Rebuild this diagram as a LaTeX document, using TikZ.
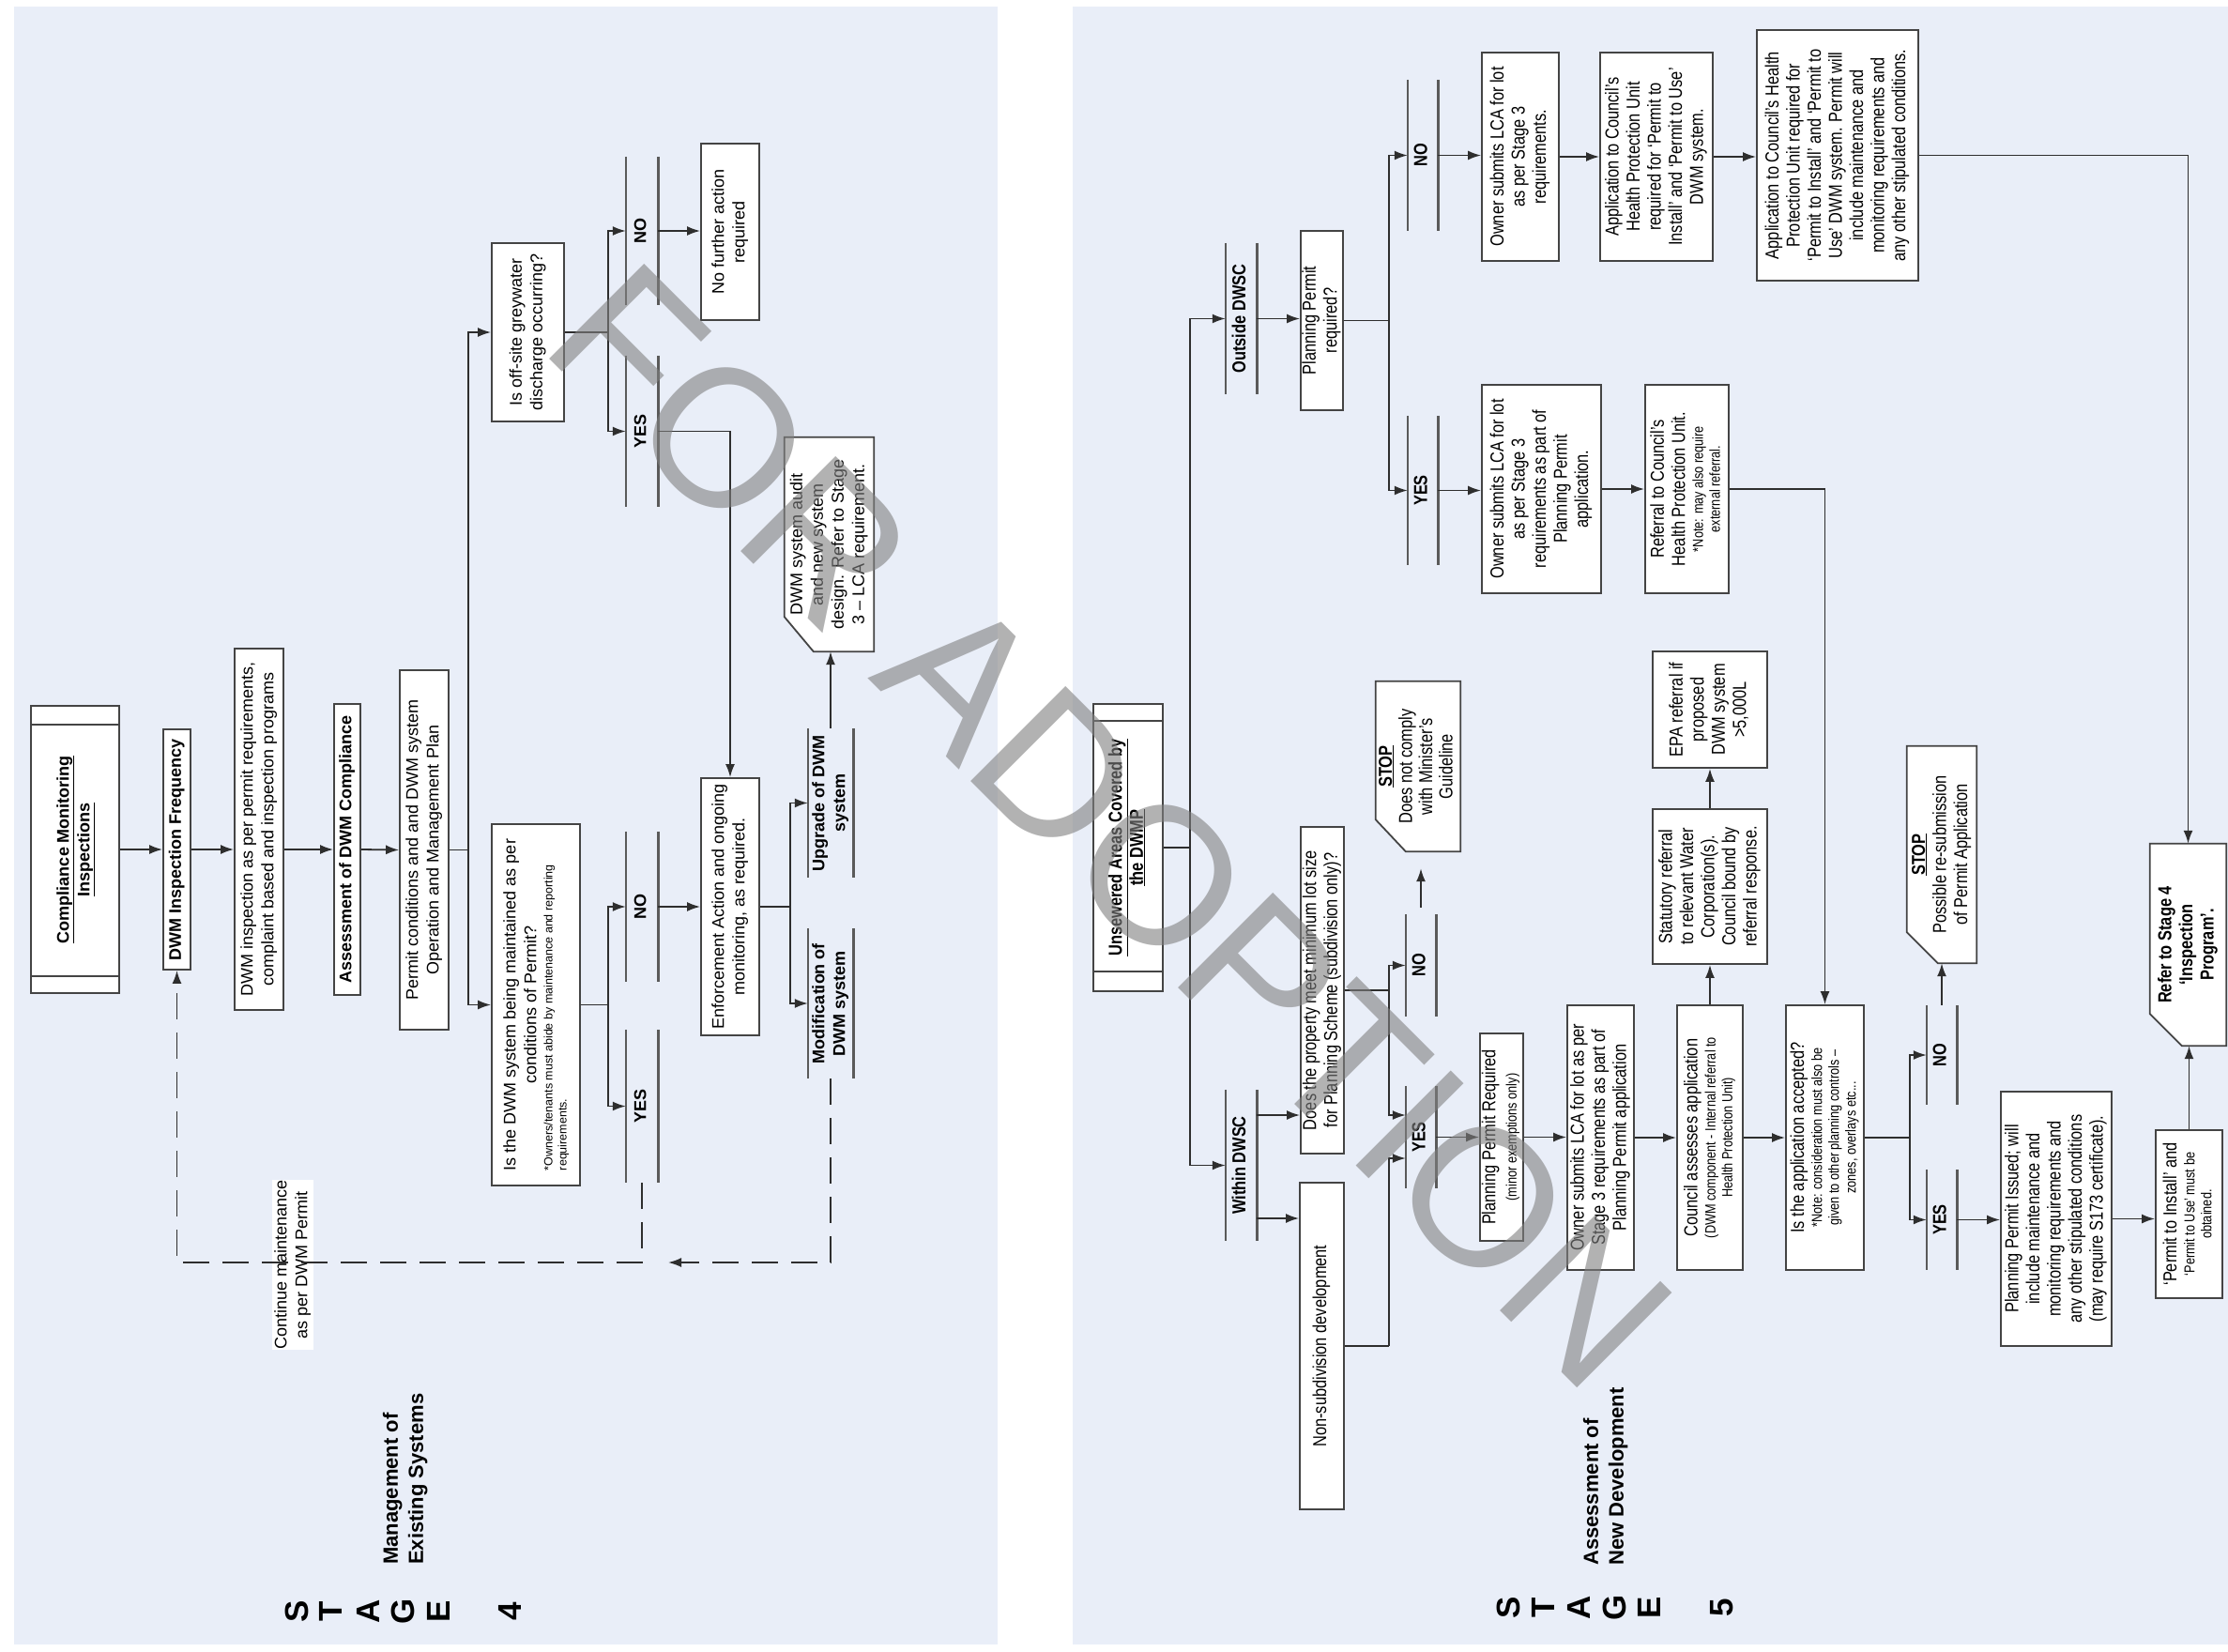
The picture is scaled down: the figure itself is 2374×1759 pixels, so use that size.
\documentclass[tikz,border=0pt]{standalone}
\usepackage{fontspec}
\setmainfont{Liberation Sans}
\newfontfamily\nar{Liberation Sans}[FakeStretch=0.82,Ligatures=TeX]
\usetikzlibrary{arrows.meta,calc}
\definecolor{panel}{HTML}{E9EEF8}
\definecolor{ink}{HTML}{2E2E2E}
\definecolor{edge}{HTML}{444444}
\definecolor{barc}{HTML}{5A5A5A}
\pgfdeclarelayer{back}
\pgfdeclarelayer{bg}
\pgfsetlayers{back,bg,main}
\newcommand{\rt}[1]{\rotatebox{90}{\begin{tabular}{@{}c@{}}#1\end{tabular}}}
\newcommand{\rtl}[1]{\rotatebox{90}{\begin{tabular}{@{}l@{}}#1\end{tabular}}}
\newcommand{\sfour}{\fontsize{18}{22}\selectfont}
\newcommand{\sfive}{\nar\fontsize{20}{22.5}\selectfont}
\newcommand{\smfour}{\fontsize{12.5}{15}\selectfont}
\newcommand{\smfive}{\fontsize{15.5}{18}\selectfont}
\newcommand{\snote}[1]{{\smfive\begin{tabular}{@{}c@{}}#1\end{tabular}}}
\tikzset{
 box/.style={draw=edge, line width=1.8pt, fill=white, inner sep=0pt},
 cbox/.style={inner sep=0pt},
 barn/.style={inner sep=0pt},
 barline/.style={draw=barc, line width=2.6pt},
 boxline/.style={draw=edge, line width=1.8pt},
 line/.style={draw=ink, line width=1.8pt},
 arr/.style={draw=ink, line width=1.8pt, -{Latex[length=14pt,width=10pt]}},
 dsh/.style={draw=ink, line width=1.8pt, dash pattern=on 28pt off 14pt, -{Latex[length=14pt,width=10pt]}},
 stg/.style={font=\bfseries\fontsize{35}{35}\selectfont, rotate=90, inner sep=0pt},
}
\newcommand{\mkbar}[6]{%
 \node[barn, minimum width=#4pt, minimum height=#5pt] (#1) at (#2,#3) {\bfseries\rt{#6}};
 \draw[barline] (#1.north west) -- (#1.south west) (#1.north east) -- (#1.south east);}
\newcommand{\chamf}[3]{%
 \begin{pgfonlayer}{bg}
 \draw[boxline, fill=white] (#1.north west) -- (#1.north east) -- (#1.south east) -- ($(#1.south west)+(#2,0)$) -- ($(#1.south west)+(0,-#3)$) -- cycle;
 \end{pgfonlayer}}
\begin{document}
\begin{tikzpicture}[x=1pt,y=-1pt]
\useasboundingbox (0,0) rectangle (2374,1759);
\begin{pgfonlayer}{back}
\fill[white] (0,0) rectangle (2374,1759);
\fill[panel] (15,7) rectangle (1063,1752);
\fill[panel] (1143,7) rectangle (2374,1752);
\end{pgfonlayer}

% ================= STAGE 4 =================
\begin{scope}[every node/.append style={font=\sfour}]
\node[box, minimum width=94pt, minimum height=306pt] (cmi) at (80,905) {\rt{\textbf{\underline{Compliance Monitoring}}\\\textbf{\underline{Inspections}}}};
\draw[boxline] ($(cmi.north west)+(0,21)$) -- ($(cmi.north east)+(0,21)$) ($(cmi.south west)+(0,-19)$) -- ($(cmi.south east)+(0,-19)$);
\node[box, minimum width=29pt, minimum height=256pt] (dif) at (188.5,905) {\rt{\textbf{DWM Inspection Frequency}}};
\node[box, minimum width=52pt, minimum height=385pt] (dip) at (276,883.5) {\rt{DWM inspection as per permit requirements,\\complaint based and inspection programs}};
\node[box, minimum width=28pt, minimum height=310pt] (adc) at (370,905) {\rt{\textbf{Assessment of DWM Compliance}}};
\node[box, minimum width=52pt, minimum height=383pt] (pcd) at (452,905.5) {\rt{Permit conditions and and DWM system\\Operation and Management Plan}};
\node[box, minimum width=77pt, minimum height=190pt] (gw) at (562.5,354) {\rt{Is off-site greywater\\discharge occurring?}};
\node[box, minimum width=94pt, minimum height=385pt] (mnt) at (571,1070.5) {\rt{Is the DWM system being maintained as per\\conditions of Permit?\\\multicolumn{1}{@{}l@{}}{\smfour\begin{tabular}{@{}l@{}}*Owners/tenants must abide by maintenance and reporting\\requirements.\end{tabular}}}};
\node[box, minimum width=62pt, minimum height=188pt] (nfa) at (778,247) {\rt{No further action\\required}};
\node[box, minimum width=62pt, minimum height=274pt] (enf) at (778,966) {\rt{Enforcement Action and ongoing\\monitoring, as required.}};
\node[cbox, minimum width=95pt, minimum height=228pt] (aud) at (883.5,580) {\rt{DWM system audit\\and new system\\design. Refer to Stage\\3 – LCA requirement.}};
\chamf{aud}{31}{37}
\mkbar{no1}{684}{246}{34}{158}{NO}
\mkbar{yes1}{684}{459.5}{34}{161}{YES}
\mkbar{no2}{684}{966}{34}{160}{NO}
\mkbar{yes2}{684}{1178.5}{34}{163}{YES}
\mkbar{upg}{885}{855.5}{48}{159}{Upgrade of DWM\\system}
\mkbar{mod}{885}{1069}{48}{160}{Modification of\\DWM system}
\node[fill=white, inner sep=0pt, minimum width=44pt, minimum height=181pt] (cont) at (312,1347.5) {\rt{Continue maintenance\\as per DWM Permit}};

\draw[arr] (cmi.east) -- (dif.west);
\draw[arr] (dif.east) -- (dif.east -| dip.west);
\draw[arr] (adc.west -| dip.east) -- (adc.west);
\draw[arr] (adc.east) -- (pcd.west);
\coordinate (j1) at ($(pcd.east)+(20,0)$);
\draw[line] (pcd.east) -- (j1);
\draw[arr] (j1) |- (gw.west);
\draw[arr] (j1) |- (mnt.west);
\coordinate (j2) at ($(gw.east)+(46,0)$);
\draw[line] (gw.east) -- (j2);
\draw[arr] (j2) |- (no1.west);
\draw[arr] (j2) |- (yes1.west);
\draw[arr] (no1.east) -- (no1.east -| nfa.west);
\draw[arr] (yes1.east) -| (enf.north);
\coordinate (j3) at ($(mnt.east)+(29,0)$);
\draw[line] (mnt.east) -- (j3);
\draw[arr] (j3) |- (no2.west);
\draw[arr] (j3) |- (yes2.west);
\draw[arr] (no2.east) -- (no2.east -| enf.west);
\coordinate (j4) at ($(enf.east)+(32,0)$);
\draw[line] (enf.east) -- (j4);
\draw[arr] (j4) |- (upg.west);
\draw[arr] (j4) |- (mod.west);
\draw[arr] (upg.north) -- (upg.north |- aud.south);
\draw[dsh] (yes2.south) -- ++(0,85) -| (dif.south);
\coordinate (dend) at (712,1345);
\draw[dsh] (mod.south) |- (dend);

\node[stg] (s4s) at (316,1717) {S};
\node[stg] (s4t) at (352,1717) {T};
\node[stg] (s4a) at (392,1717) {A};
\node[stg] (s4g) at (429,1717) {G};
\node[stg] (s4e) at (467,1717) {E};
\node[stg] (s4n) at (543,1717) {4};
\node[anchor=south, inner sep=0pt, font=\bfseries\fontsize{22}{27}\selectfont] (t4) at (432,1667) {\rtl{Management of\\Existing Systems}};
\end{scope}

% ================= STAGE 5 =================
\begin{scope}[every node/.append style={font=\sfive}]
\node[box, minimum width=74pt, minimum height=306pt] (uns) at (1202,903) {\rt{\textbf{\underline{Unsewered Areas Covered by}}\\\textbf{\underline{the DWMP}}}};
\draw[boxline] ($(uns.north west)+(0,19)$) -- ($(uns.north east)+(0,19)$) ($(uns.south west)+(0,-22)$) -- ($(uns.south east)+(0,-22)$);
\mkbar{ods}{1322.5}{339.5}{33}{161}{Outside DWSC}
\mkbar{wds}{1322.5}{1241.5}{33}{161}{Within DWSC}
\node[box, minimum width=45pt, minimum height=191pt] (ppr) at (1408.5,341.5) {\rt{Planning Permit\\required?}};
\mkbar{no3}{1516}{165.5}{32}{161}{NO}
\mkbar{yes3}{1516}{522.5}{32}{159}{YES}
\node[box, minimum width=82pt, minimum height=222pt] (ow1) at (1620,167) {\rt{Owner submits LCA for lot\\as per Stage 3\\requirements.}};
\node[box, minimum width=120pt, minimum height=222pt] (ap1) at (1765,167) {\rt{Application to Council’s\\Health Protection Unit\\required for ‘Permit to\\Install’ and ‘Permit to Use’\\DWM system.}};
\node[box, minimum width=172pt, minimum height=267pt] (ap2) at (1958,165.5) {\rt{Application to Council’s Health\\Protection Unit required for\\‘Permit to Install’ and ‘Permit to\\Use’ DWM system. Permit will\\include maintenance and\\monitoring requirements and\\any other stipulated conditions.}};
\node[box, minimum width=127pt, minimum height=222pt] (ow2) at (1642.5,521) {\rt{Owner submits LCA for lot\\as per Stage 3\\requirements as part of\\Planning Permit\\application.}};
\node[box, minimum width=89pt, minimum height=222pt] (ref) at (1797.5,521) {\rt{Referral to Council’s\\Health Protection Unit.\\\snote{*Note: may also require\\external referral.}}};
\node[cbox, minimum width=90pt, minimum height=181pt, font=\nar\fontsize{20}{21.5}\selectfont] (stop1) at (1511,816.5) {\rt{\textbf{\underline{STOP}}\\Does not comply\\with Minister’s\\Guideline}};
\chamf{stop1}{32}{34}
\node[box, minimum width=46pt, minimum height=348pt] (dpm) at (1409,1055) {\rt{Does the property meet minimum lot size\\for Planning Scheme (subdivision only)?}};
\node[box, minimum width=47pt, minimum height=348pt] (nsd) at (1408.5,1434) {\rt{Non-subdivision development}};
\mkbar{no4}{1514}{1028.5}{32}{109}{NO}
\mkbar{yes4}{1514}{1211.5}{32}{109}{YES}
\node[box, minimum width=46pt, minimum height=221pt] (ppq) at (1600,1211.5) {\rt{Planning Permit Required\\\snote{(minor exemptions only)}}};
\node[box, minimum width=71pt, minimum height=282pt] (ow3) at (1705.5,1212) {\rt{Owner submits LCA for lot as per\\Stage 3 requirements as part of\\Planning Permit application}};
\node[box, minimum width=70pt, minimum height=282pt] (cou) at (1822,1212) {\rt{Council assesses application\\\snote{(DWM component - Internal referral to\\Health Protection Unit)}}};
\node[box, minimum width=122pt, minimum height=165pt] (stat) at (1822,944.5) {\rt{Statutory referral\\to relevant Water\\Corporation(s).\\Council bound by\\referral response.}};
\node[box, minimum width=122pt, minimum height=124pt] (epa) at (1822,756) {\rt{EPA referral if\\proposed\\DWM system\\>5,000L}};
\node[box, minimum width=83pt, minimum height=282pt] (iap) at (1944.5,1212) {\rt{Is the application accepted?\\\snote{*Note: consideration must also be\\given to other planning controls –\\zones, overlays etc...}}};
\mkbar{no5}{2069}{1124}{32}{106}{NO}
\mkbar{yes5}{2069}{1299.5}{32}{107}{YES}
\node[cbox, minimum width=74pt, minimum height=231pt] (stop2) at (2069,910.5) {\rt{\textbf{\underline{STOP}}\\Possible re-submission\\of Permit Application}};
\chamf{stop2}{33}{33}
\node[box, minimum width=118pt, minimum height=271pt] (ppi) at (2191,1298.5) {\rt{Planning Permit Issued; will\\include maintenance and\\monitoring requirements and\\any other stipulated conditions\\(may require S173 certificate).}};
\node[box, minimum width=71pt, minimum height=179pt] (pti) at (2332.5,1293.5) {\rt{‘Permit to Install’ and\\\snote{‘Permit to Use’ must be\\obtained.}}};
\node[cbox, minimum width=81pt, minimum height=215pt] (ref4) at (2331.5,1006.5) {\rt{\textbf{Refer to Stage 4}\\\textbf{‘Inspection}\\\textbf{Program’.}}};
\chamf{ref4}{34}{34}

\coordinate (k1) at ($(uns.east)+(28,0)$);
\draw[line] (uns.east) -- (k1);
\draw[arr] (k1) |- (ods.west);
\draw[arr] (k1) |- (wds.west);
\draw[arr] (ods.east) -- (ods.east -| ppr.west);
\coordinate (k2) at ($(ppr.east)+(48,0)$);
\draw[line] (ppr.east) -- (k2);
\draw[arr] (k2) |- (no3.west);
\draw[arr] (k2) |- (yes3.west);
\draw[arr] (no3.east) -- (no3.east -| ow1.west);
\draw[arr] (ow1.east) -- (ap1.west);
\draw[arr] (ap1.east) -- (ap1.east -| ap2.west);
\draw[arr] (ap2.east) -| (ref4.north);
\draw[arr] (yes3.east) -- (yes3.east -| ow2.west);
\draw[arr] (ow2.east) -- (ref.west);
\draw[arr] (ref.east) -| (iap.north);
\coordinate (w1) at ($(wds.east)+(0,-53.5)$);
\coordinate (w2) at ($(wds.east)+(0,56.5)$);
\draw[arr] (w1) -- (w1 -| dpm.west);
\draw[arr] (w2) -- (w2 -| nsd.west);
\coordinate (k3) at ($(dpm.east)+(47,0)$);
\draw[line] (dpm.east) -- (k3);
\draw[arr] (k3) |- (no4.west);
\coordinate (y4a) at ($(yes4.west)+(0,-23.5)$);
\draw[arr] (k3) |- (y4a);
\coordinate (k4) at ($(nsd.east)+(47,0)$);
\coordinate (y4b) at ($(yes4.west)+(0,22.5)$);
\draw[line] (nsd.east) -- (k4);
\draw[arr] (k4) |- (y4b);
\draw[arr, shorten <=7pt, shorten >=18pt] (no4.north) -- (no4.north |- stop1.south);
\draw[arr] (yes4.east) -- (yes4.east -| ppq.west);
\draw[arr] (ppq.east) -- (ppq.east -| ow3.west);
\draw[arr] (ow3.east) -- (ow3.east -| cou.west);
\draw[arr] (cou.east) -- (cou.east -| iap.west);
\draw[arr] (cou.north) -- (stat.south);
\draw[arr] (stat.north) -- (epa.south);
\coordinate (k5) at ($(iap.east)+(48,0)$);
\draw[line] (iap.east) -- (k5);
\draw[arr] (k5) |- (no5.west);
\draw[arr] (k5) |- (yes5.west);
\draw[arr] (no5.north) -- (no5.north |- stop2.south);
\draw[arr] (yes5.east) -- (yes5.east -| ppi.west);
\draw[arr] (ppi.east) -- (ppi.east -| pti.west);
\draw[arr] (pti.north) -- (pti.north |- ref4.south);

\node[stg] (s5s) at (1607,1713) {S};
\node[stg] (s5t) at (1644,1713) {T};
\node[stg] (s5a) at (1682,1713) {A};
\node[stg] (s5g) at (1720,1713) {G};
\node[stg] (s5e) at (1757,1713) {E};
\node[stg] (s5n) at (1835,1713) {5};
\node[anchor=south, inner sep=0pt, font=\bfseries\fontsize{22}{27}\selectfont] (t5) at (1711,1668) {\rtl{Assessment of\\New Development}};
\end{scope}

\node[rotate=-45, text=gray, opacity=0.6, inner sep=0pt, font=\fontsize{208}{208}\selectfont] (wm) at (1184,880) {FOR ADOPTION};
\end{tikzpicture}
\end{document}
